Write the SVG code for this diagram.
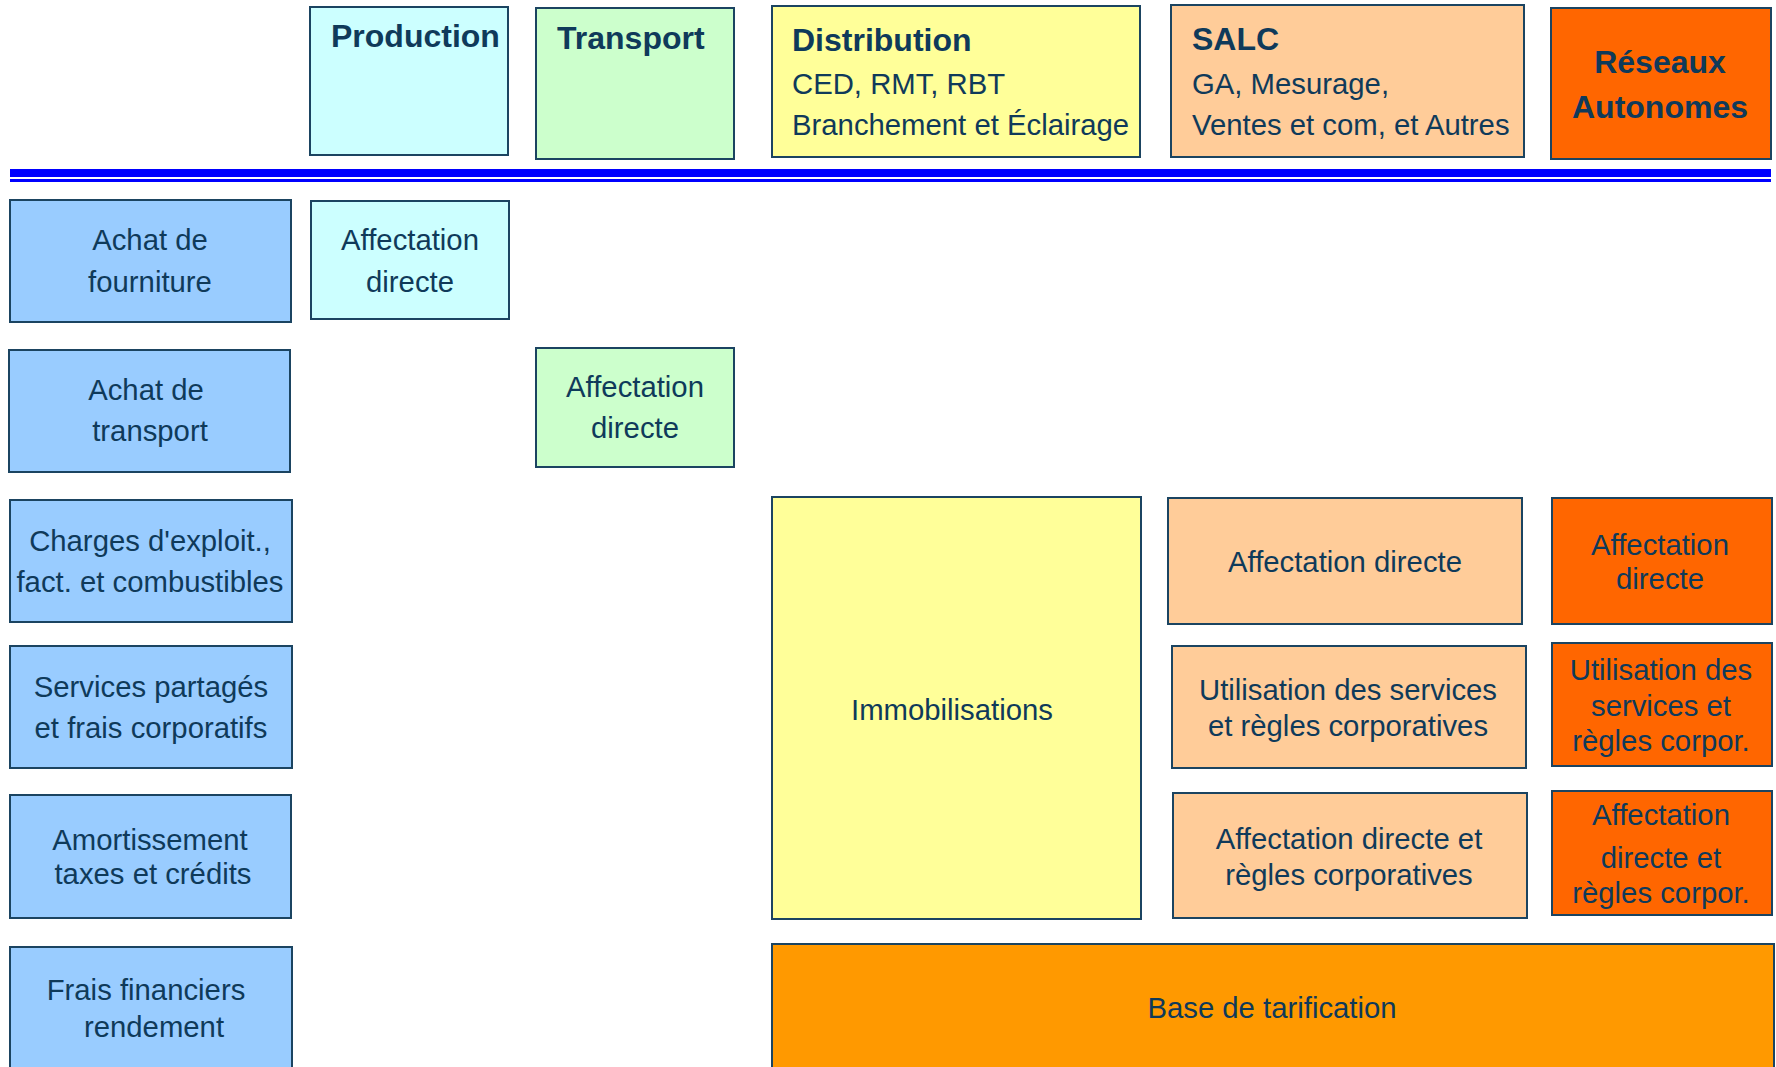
<svg xmlns="http://www.w3.org/2000/svg" width="1776" height="1067" viewBox="0 0 1776 1067">
<style>
rect{stroke:#1B4461;stroke-width:2}
text{font-family:"Liberation Sans",Arial,sans-serif;font-size:29.3px;fill:#0F3A5A}
.b{font-weight:bold;font-size:32px}
.c{text-anchor:middle}
.prod{fill:#CCFFFF}.tran{fill:#CCFFCC}.dist{fill:#FFFF99}.salc{fill:#FFCC99}.ra{fill:#FF6600}.src{fill:#99CCFF}.base{fill:#FF9900}
</style>
<rect width="1776" height="1067" fill="#FFFFFF" style="stroke:none"/>
<g id="h-production"><rect class="prod" x="310" y="7" width="198" height="148"/><text class="b" x="331" y="47">Production</text></g>
<g id="h-transport"><rect class="tran" x="536" y="8" width="198" height="151"/><text class="b" x="557" y="49">Transport</text></g>
<g id="h-distribution"><rect class="dist" x="772" y="6" width="368" height="151"/><text class="b" x="792" y="51">Distribution</text><text x="792" y="94">CED, RMT, RBT</text><text x="792" y="135">Branchement et Éclairage</text></g>
<g id="h-salc"><rect class="salc" x="1171" y="5" width="353" height="152"/><text class="b" x="1192" y="50">SALC</text><text x="1192" y="94">GA, Mesurage,</text><text x="1192" y="135">Ventes et com, et Autres</text></g>
<g id="h-reseaux"><rect class="ra" x="1551" y="8" width="220" height="151"/><text class="b c" x="1660" y="73">Réseaux</text><text class="b c" x="1660" y="118">Autonomes</text></g>
<g id="separator"><rect x="10" y="169" width="1761" height="8" style="fill:#0000FF;stroke:none"/><rect x="10" y="179" width="1761" height="3" style="fill:#0000FF;stroke:none"/></g>
<g id="r-fourniture"><rect class="src" x="10" y="200" width="281" height="122"/><text class="c" x="150" y="250">Achat de</text><text class="c" x="150" y="292">fourniture</text></g>
<g id="p-affectation"><rect class="prod" x="311" y="201" width="198" height="118"/><text class="c" x="410" y="250">Affectation</text><text class="c" x="410" y="292">directe</text></g>
<g id="r-transport"><rect class="src" x="9" y="350" width="281" height="122"/><text class="c" x="146" y="400">Achat de</text><text class="c" x="150" y="441">transport</text></g>
<g id="t-affectation"><rect class="tran" x="536" y="348" width="198" height="119"/><text class="c" x="635" y="397">Affectation</text><text class="c" x="635" y="438">directe</text></g>
<g id="r-charges"><rect class="src" x="10" y="500" width="282" height="122"/><text class="c" x="150" y="551">Charges d'exploit.,</text><text class="c" x="150" y="592">fact. et combustibles</text></g>
<g id="r-services"><rect class="src" x="10" y="646" width="282" height="122"/><text class="c" x="151" y="697">Services partagés</text><text class="c" x="151" y="738">et frais corporatifs</text></g>
<g id="r-amortissement"><rect class="src" x="10" y="795" width="281" height="123"/><text class="c" x="150" y="850">Amortissement</text><text class="c" x="153" y="884">taxes et crédits</text></g>
<g id="r-frais"><rect class="src" x="10" y="947" width="282" height="130"/><text class="c" x="146" y="1000">Frais financiers</text><text class="c" x="154" y="1037">rendement</text></g>
<g id="d-immobilisations"><rect class="dist" x="772" y="497" width="369" height="422"/><text class="c" x="952" y="720">Immobilisations</text></g>
<g id="s-affectation"><rect class="salc" x="1168" y="498" width="354" height="126"/><text class="c" x="1345" y="572">Affectation directe</text></g>
<g id="a-affectation"><rect class="ra" x="1552" y="498" width="220" height="126"/><text class="c" x="1660" y="555">Affectation</text><text class="c" x="1660" y="589">directe</text></g>
<g id="s-utilisation"><rect class="salc" x="1172" y="646" width="354" height="122"/><text class="c" x="1348" y="700">Utilisation des services</text><text class="c" x="1348" y="736">et règles corporatives</text></g>
<g id="a-utilisation"><rect class="ra" x="1552" y="643" width="220" height="123"/><text class="c" x="1661" y="680">Utilisation des</text><text class="c" x="1661" y="716">services et</text><text class="c" x="1661" y="751">règles corpor.</text></g>
<g id="s-affectation-regles"><rect class="salc" x="1173" y="793" width="354" height="125"/><text class="c" x="1349" y="849">Affectation directe et</text><text class="c" x="1349" y="885">règles corporatives</text></g>
<g id="a-affectation-regles"><rect class="ra" x="1552" y="791" width="220" height="124"/><text class="c" x="1661" y="825">Affectation</text><text class="c" x="1661" y="868">directe et</text><text class="c" x="1661" y="903">règles corpor.</text></g>
<g id="base-tarification"><rect class="base" x="772" y="944" width="1002" height="133"/><text class="c" x="1272" y="1018">Base de tarification</text></g>
<g id="connectors"></g>
</svg>
